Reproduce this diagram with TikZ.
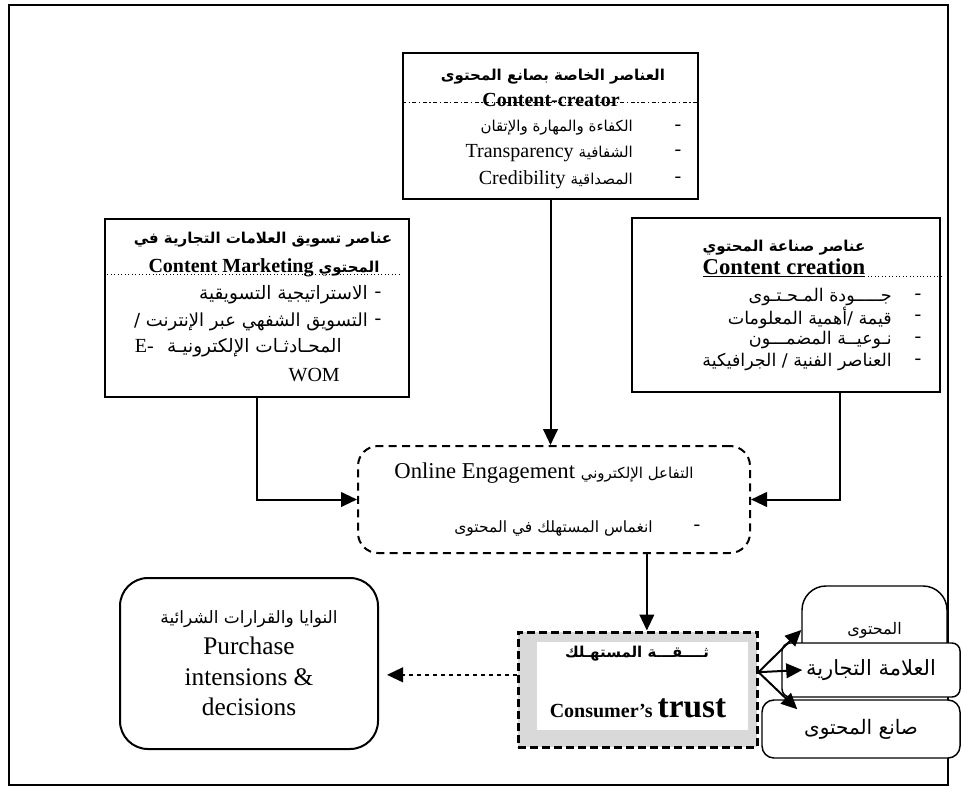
\documentclass[tikz,border=0pt]{standalone}
\usepackage{fontspec}
\setmainfont{Liberation Serif}
\newfontfamily\arabicfont[Script=Arabic,Scale=0.75]{DejaVu Sans}
\TeXXeTstate=1
\newcommand{\artxt}[1]{{\arabicfont\beginR #1\endR}}
\usetikzlibrary{arrows.meta}

\tikzset{
  box/.style={draw, line width=1.5pt, fill=white, inner sep=0pt},
  txt/.style={inner sep=0pt, font=\fontsize{15}{17}\selectfont},
  bigar/.style={inner sep=0pt, font=\fontsize{18.5}{20}\selectfont},
  ttl/.style={inner sep=0pt, font=\fontsize{15}{17}\selectfont\bfseries},
  conn/.style={line width=1.5pt, -{Triangle[length=12pt,width=11pt]}},
}

\begin{document}
\begin{tikzpicture}[x=0.75pt, y=-0.75pt]
    \useasboundingbox (0,0) rectangle (962,787);
    % outer frame
    \draw[line width=1.5pt] (9,5) rectangle (948,785);

    % Nodes for the boxes
    \node[box, minimum width=221.25pt, minimum height=109.5pt] (creator) at (550.5,126) {};
    \node[box, minimum width=228pt, minimum height=133.5pt] (mkt) at (257,308) {};
    \node[box, minimum width=231pt, minimum height=130.5pt] (creation) at (786,305) {};
    \node[draw, line width=1.5pt, dash pattern=on 6pt off 4pt, rounded corners=15pt, minimum width=294pt, minimum height=80.25pt] (engage) at (554,499.5) {};
    \node[draw, line width=2.25pt, dash pattern=on 6pt off 3pt, fill=gray!30, minimum width=179.25pt, minimum height=86.25pt] (trust) at (637.5,689.5) {};
    \fill[white] (537,642) rectangle (748,730);
    \node[box, rounded corners=21pt, minimum width=193.5pt, minimum height=128.25pt, align=center, font=\fontsize{19}{23}\selectfont] (purchase) at (249,663.5)
        {{\fontsize{17}{17}\selectfont\artxt{النوايا والقرارات الشرائية}}\\ Purchase\\ intensions \&\\ decisions};

    % small boxes on the right
    \node[box, line width=1.1pt, rounded corners=18pt, minimum width=108.75pt, minimum height=66pt, font=\fontsize{16}{17}\selectfont] (content) at (874.5,630) {\artxt{المحتوى}};
    \node[box, line width=1.1pt, rounded corners=6pt, minimum width=133.5pt, minimum height=40.5pt, font=\fontsize{21}{22}\selectfont] (brand) at (871,670) {\artxt{العلامة التجارية}};
    \node[box, line width=1.1pt, rounded corners=9pt, minimum width=148.5pt, minimum height=43.5pt, font=\fontsize{20}{21}\selectfont] (maker) at (861,729) {\artxt{صانع المحتوى}};

    % content creator
    \node[ttl] (crT) at (553,77) {\artxt{العناصر الخاصة بصانع المحتوى}};
    \draw[line width=0.6pt, dash pattern=on 3pt off 2pt on 0.8pt off 2pt] (creator.west |- 0,102) -- (creator.east |- 0,102);
    \node[ttl] (crEn) at (551,100) {Content-creator};
    \node[txt, anchor=east] (cr1) at (633,128) {\artxt{الكفاءة والمهارة والإتقان}};
    \node[txt, anchor=east] (cr2) at (633,153) {Transparency \artxt{الشفافية}};
    \node[txt, anchor=east] (cr3) at (633,180) {Credibility \artxt{المصداقية}};
    \node[txt] (crd1) at (678,128) {-};
    \node[txt] (crd2) at (678,153) {-};
    \node[txt] (crd3) at (678,180) {-};

    % content marketing
    \node[ttl] (mkT) at (263,240) {\artxt{عناصر تسويق العلامات التجارية في}};
    \draw[line width=0.6pt, dotted] (mkt.west |- 0,274) -- (400,274);
    \node[ttl] (mkEn) at (264,268) {Content Marketing \artxt{المحتوي}};
    \node[bigar, anchor=east] (mk1) at (368,295) {\artxt{الاستراتيجية التسويقية}};
    \node[bigar, font=\fontsize{18}{20}\selectfont, anchor=east] (mk2) at (368,322) {\artxt{التسويق الشفهي عبر الإنترنت /}};
    \node[bigar, anchor=east] (mk3) at (342,348) {{\fontsize{15}{17}\selectfont E-}\hspace{10pt}\artxt{المحـادثـات الإلكترونيـة}};
    \node[txt, anchor=east] (mk4) at (340,375) {WOM};
    \node[txt] (mkd1) at (378,295) {-};
    \node[txt] (mkd2) at (378,322) {-};

    % content creation
    \node[ttl] (cnT) at (784,248) {\artxt{عناصر صناعة المحتوي}};
    \node[ttl, font=\fontsize{17}{19}\selectfont\bfseries] (cnEn) at (784,268) {\underline{Content creation}};
    \draw[line width=0.6pt, dotted] (868,276) -- (creation.east |- 0,276);
    \node[bigar, font=\fontsize{17.5}{19}\selectfont, anchor=east] (cn1) at (892,297) {\artxt{جـــــودة المـحـتـوى}};
    \node[bigar, font=\fontsize{17.5}{19}\selectfont, anchor=east] (cn2) at (892,318) {\artxt{قيمة /\kern0pt أهمية المعلومات}};
    \node[bigar, font=\fontsize{17.5}{19}\selectfont, anchor=east] (cn3) at (892,340) {\artxt{نـوعيــة المضمـــون}};
    \node[bigar, font=\fontsize{17.5}{19}\selectfont, anchor=east] (cn4) at (892,362) {\artxt{العناصر الفنية / الجرافيكية}};
    \node[txt] (cnd1) at (918,297) {-};
    \node[txt] (cnd2) at (918,318) {-};
    \node[txt] (cnd3) at (918,340) {-};
    \node[txt] (cnd4) at (918,362) {-};

    % engagement
    \node[txt, font=\fontsize{17}{19}\selectfont] (enT) at (544,473) {Online Engagement {\fontsize{15}{17}\selectfont\artxt{التفاعل الإلكتروني}}};
    \node[txt, font=\fontsize{15.5}{17}\selectfont, anchor=east] (en1) at (653,528) {\artxt{انغماس المستهلك في المحتوى}};
    \node[txt] (end1) at (697,528) {-};

    % trust
    \node[ttl] (trT) at (637,654) {\artxt{ثــــقـــة المستهـلك}};
    \node[ttl] (trEn) at (638,708) {Consumer’s {\fontsize{25}{26}\selectfont trust}};

    % connectors
    \draw[conn] (creator.south) -- (creator.south |- engage.north);
    \draw[conn] (mkt.south) |- (engage.west);
    \draw[conn] ([xshift=40.5pt]creation.south) |- (engage.east);
    \draw[conn] ([xshift=7pt]trust.north |- engage.south) -- ([xshift=7pt]trust.north);
    \draw[conn, dashed] ([yshift=11pt]trust.west) -- ([yshift=11pt, xshift=6pt]trust.west -| purchase.east);

    \coordinate (fork) at ([yshift=13pt]trust.east);
    \coordinate (brandtip) at ([xshift=15.75pt]brand.west);
    \coordinate (makertip) at ([xshift=27pt, yshift=-7.5pt]maker.north west);
    \draw[conn] (fork) -- (content.west);
    \draw[conn] (fork) -- (brandtip);
    \draw[conn] (fork) -- (makertip);
\end{tikzpicture}
\end{document}
